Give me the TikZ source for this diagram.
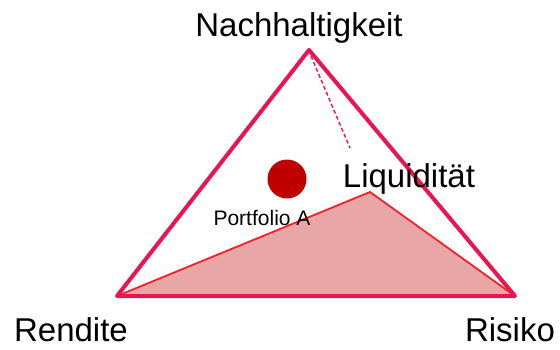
\documentclass[tikz,border=0pt]{standalone}
\usepackage{fontspec}
\setmainfont{Liberation Sans}
\definecolor{crim}{HTML}{EA1450}
\definecolor{redl}{HTML}{F2202A}
\definecolor{fillr}{HTML}{E8A6A6}
\definecolor{dot}{HTML}{C00000}
\begin{document}
\begin{tikzpicture}[x=1pt,y=-1pt,
  lbl/.style={font=\fontsize{33}{36}\selectfont, anchor=base, inner sep=0pt},
  small/.style={font=\fontsize{21}{24}\selectfont, anchor=base, inner sep=0pt}]
\useasboundingbox (0,0) rectangle (560,349);
\coordinate (T) at (309,50);
\coordinate (L) at (117,296);
\coordinate (R) at (515,296);
\coordinate (M) at (370,192);
\coordinate (D1) at (311,56);
\coordinate (D2) at (350,148);
\fill[fillr] (L) -- (M) -- (R) -- cycle;
\draw[redl, line width=1.8pt, line join=round] (L) -- (M) -- (R);
\draw[crim, line width=1.4pt, dash pattern=on 4pt off 2.5pt] (D1) -- (D2);
\draw[crim, line width=4pt, line join=round] (T) -- (L) -- (R) -- cycle;
\fill[dot] (287,179) circle (19.5) node[coordinate] (P) {};
\node[lbl] (nh) at (299,36) {Nachhaltigkeit};
\node[lbl] (lq) at (409,187) {Liquidität};
\node[lbl] (rd) at (71,341) {Rendite};
\node[lbl] (rk) at (510,341) {Risiko};
\node[small] (pa) at (262,225) {Portfolio A};
\end{tikzpicture}
\end{document}
